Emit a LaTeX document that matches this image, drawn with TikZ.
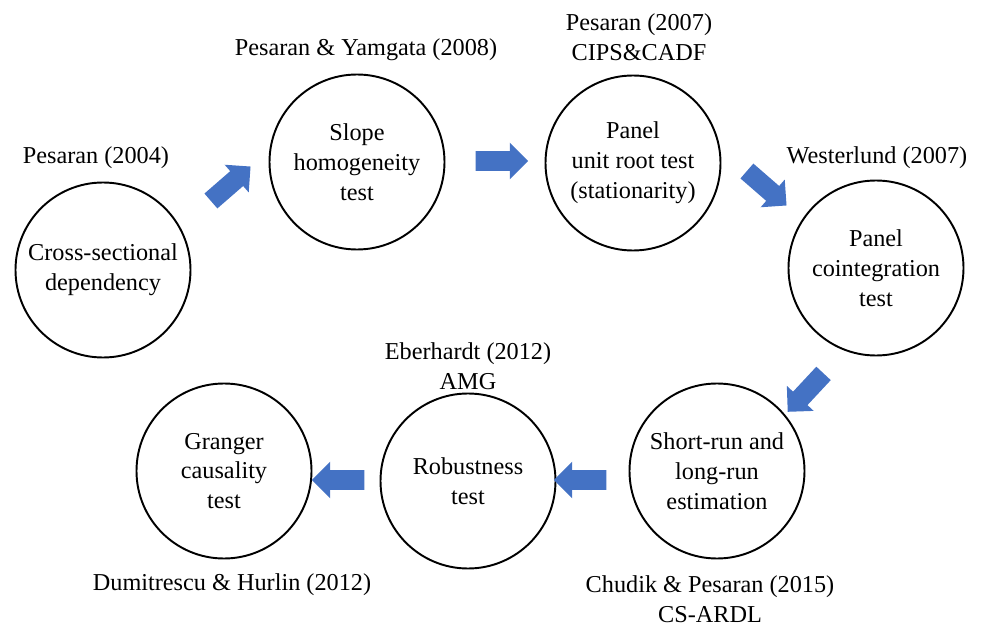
\documentclass[tikz,border=0pt]{standalone}
\usepackage{fontspec}
\setmainfont{Liberation Serif}
\usepackage{xcolor}
\usepackage{tikz}
\usetikzlibrary{shapes.arrows}
\definecolor{arrowblue}{RGB}{68,114,196}
\tikzset{
    stage/.style={circle, draw, line width=1.1pt, minimum size=35mm, inner sep=0pt, align=center, font=\fontsize{13.8}{17}\selectfont},
    refnote/.style={align=center, inner sep=0pt, font=\fontsize{13.8}{17}\selectfont},
    blockarrow/.style={single arrow, fill=arrowblue, draw=none, inner xsep=0pt, inner ysep=1.9mm, minimum height=10.5mm, single arrow head extend=1.7mm, single arrow head indent=0pt}
}

\begin{document}
\begin{tikzpicture}[x=0.2mm, y=-0.2mm]
            \useasboundingbox (0,0) rectangle (984,626);

            % test stages
            \node[stage] at (103, 270) (csd) {Cross-sectional\\dependency};
            \node[stage] at (357, 162) (slope) {Slope\\homogeneity\\test};
            \node[stage] at (633, 163) (unitroot) {Panel\\unit root test\\(stationarity)};
            \node[stage] at (876, 268) (coint) {Panel\\cointegration\\test};
            \node[stage] at (717, 471) (estim) {Short-run and\\long-run\\estimation};
            \node[stage] at (468, 481) (robust) {Robustness\\test};
            \node[stage] at (224, 471) (granger) {Granger\\causality\\test};

            % references
            \node[refnote] at (96, 158) (r_csd) {Pesaran (2004)};
            \node[refnote] at (366, 50) (r_slope) {Pesaran \& Yamgata (2008)};
            \node[refnote] at (639, 37) (r_unitroot) {Pesaran (2007)\\CIPS\&CADF};
            \node[refnote] at (877, 158) (r_coint) {Westerlund (2007)};
            \node[refnote] at (710, 599) (r_estim) {Chudik \& Pesaran (2015)\\CS-ARDL};
            \node[refnote] at (468, 366) (r_robust) {Eberhardt (2012)\\AMG};
            \node[refnote] at (232, 585) (r_granger) {Dumitrescu \& Hurlin (2012)};

            % block arrows between stages
            \node[blockarrow, rotate=41] at (227, 187) (a_1) {};
            \node[blockarrow] at (497, 161) (a_2) {};
            \node[blockarrow, rotate=-41] at (763, 185) (a_3) {};
            \node[blockarrow, rotate=-133] at (809, 389) (a_4) {};
            \node[blockarrow, rotate=180] at (585, 480) (a_5) {};
            \node[blockarrow, rotate=180] at (343, 480) (a_6) {};
        \end{tikzpicture}
\end{document}
